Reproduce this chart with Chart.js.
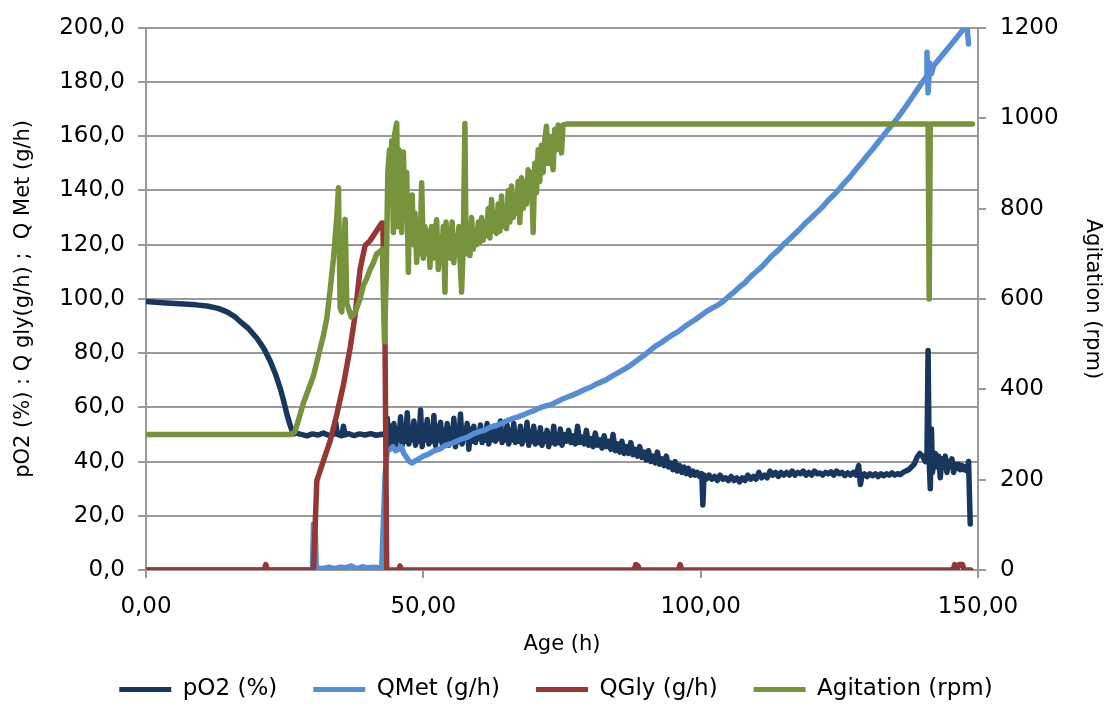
<!DOCTYPE html>
<html>
<head>
<meta charset="utf-8">
<script src="https://cdn.jsdelivr.net/npm/chart.js@4/dist/chart.umd.min.js"></script>
<style>
    html, body { margin: 0; padding: 0; background: #fff; }
</style>
</head>
<body>
<canvas id="myChart" width="1112" height="717"></canvas>
<script>
// Data
var xTickLabels = ['0,00', '50,00', '100,00', '150,00'];
var yTickLabels = ['0,0', '20,0', '40,0', '60,0', '80,0', '100,0', '120,0', '140,0', '160,0', '180,0', '200,0'];
var y1TickLabels = ['0', '200', '400', '600', '800', '1000', '1200'];
var seriesNames = ['pO2 (%)', 'QMet (g/h)', 'QGly (g/h)', 'Agitation (rpm)'];

// [age (h), pO2 (%)]
var po2 = [
    [0, 99], [3, 98.6], [6, 98.2], [9, 97.8], [11, 97.4], [13, 96.5], [14.6, 95.2], [16, 93.5], [17, 91.6],
    [18.5, 89], [20, 85.5], [21.3, 81.5], [22.4, 77], [23.3, 72.5], [24.2, 67], [24.8, 62.5], [25.4, 57.5],
    [25.9, 54], [26.3, 51.5], [26.6, 50.2], [27, 50.5], [28, 50], [29, 49.5], [30, 50.2], [31, 49.8],
    [32, 50.5], [33, 49.6], [33.8, 50], [34.2, 54.5], [34.5, 50], [35.3, 49.5], [35.6, 53], [35.9, 49.8],
    [36.5, 50.3], [37.5, 49.6], [38.5, 50.2], [39.5, 49.8], [40.5, 50.3], [41.5, 49.7], [42.5, 50.1], [43.2, 49.8],
    [43.5, 56], [43.8, 46], [44.1, 53], [44.4, 47], [44.7, 54], [45.0, 45.5], [45.3, 52], [45.6, 48],
    [45.9, 56.5], [46.2, 46], [46.5, 53], [46.8, 47.5], [47.1, 58], [47.4, 46.5], [47.7, 52], [48.0, 48],
    [48.3, 55], [48.6, 46], [48.9, 51.5], [49.2, 47.5], [49.5, 59], [49.8, 45.5], [50.1, 53], [50.4, 48],
    [50.7, 55.5], [51.0, 46.5], [51.3, 52], [51.6, 47.5], [51.9, 57], [52.2, 46], [52.5, 53], [52.8, 48],
    [53.1, 54.5], [53.4, 46.5], [53.7, 51.5], [54.0, 47], [54.3, 54], [54.6, 46], [54.9, 52], [55.2, 48],
    [55.5, 56], [55.8, 45.5], [56.1, 52.5], [56.4, 47.5], [56.7, 57.5], [57.0, 46.5], [57.3, 51.5], [57.6, 48.5],
    [57.9, 54], [58.2, 44.5], [58.5, 52], [58.8, 47.5], [59.1, 53], [59.4, 47], [59.7, 51], [60.0, 48.5],
    [60.3, 53.5], [60.6, 47], [60.9, 51], [61.2, 48], [61.5, 54], [61.8, 46.5], [62.1, 51.5], [62.4, 48],
    [62.7, 53], [63.0, 47.5], [63.3, 50.5], [63.6, 48.5], [63.9, 55], [64.2, 47], [64.5, 51], [64.8, 48],
    [65.1, 53.5], [65.4, 46.5], [65.7, 51.5], [66.0, 48], [66.3, 54], [66.6, 47], [66.9, 50.5], [67.2, 47.5],
    [67.5, 53], [67.8, 46.5], [68.1, 51], [68.4, 48], [68.7, 54.5], [69.0, 46], [69.3, 51], [69.6, 47.5],
    [69.9, 53], [70.2, 46.5], [70.5, 50.5], [70.8, 47], [71.1, 52.5], [71.4, 46], [71.7, 50], [72.0, 47.5],
    [72.3, 51.5], [72.6, 45.5], [72.9, 50], [73.2, 47], [73.5, 53], [73.8, 46.5], [74.1, 49.5], [74.4, 47],
    [74.7, 52], [75.0, 46], [75.4, 50], [75.8, 47.5], [76.2, 51.5], [76.6, 47], [77, 49.5], [77.4, 46.5],
    [77.8, 53], [78.2, 47], [78.6, 49], [79, 46.5], [79.4, 51.5], [79.8, 46], [80.2, 48.5], [80.6, 45.5],
    [81, 50.5], [81.4, 46], [81.8, 48], [82.2, 45], [82.6, 49.5], [83, 45.5], [83.4, 47.5], [83.8, 44.5],
    [84.2, 50], [84.6, 44], [85, 46.5], [85.4, 43.5], [85.8, 47.5], [86.2, 43], [86.6, 45.5], [87, 43],
    [87.4, 47], [87.8, 42.5], [88.2, 44.5], [88.6, 42], [89, 45.5], [89.4, 41.5], [89.8, 43.5], [90.2, 40.5],
    [90.6, 44], [91, 40], [91.4, 42], [91.8, 39.5], [92.2, 43.5], [92.6, 39], [93, 41], [93.4, 38.5],
    [93.8, 42], [94.2, 38], [94.6, 39.5], [95, 37], [95.4, 40], [95.8, 36.5], [96.2, 38.5], [96.6, 36],
    [97, 38], [97.4, 35.5], [97.8, 37.5], [98.2, 35], [98.6, 36.5], [99, 35], [99.4, 36], [99.8, 34.5],
    [100.2, 35.5], [100.4, 24], [100.6, 35], [101, 33.5], [101.5, 35], [102, 33.5], [102.5, 34.5], [103, 33],
    [103.5, 35], [104, 33.5], [104.5, 34], [105, 33], [105.5, 34.5], [106, 33], [106.5, 34], [107, 32.5],
    [107.5, 34], [108, 33], [108.5, 35], [109, 33.5], [109.5, 34.5], [110, 33.5], [110.5, 36], [111, 34],
    [111.5, 35], [112, 34], [112.5, 36.5], [113, 35], [113.5, 36], [114, 34.5], [114.5, 36], [115, 35],
    [115.5, 36], [116, 35], [116.5, 36.5], [117, 35], [117.5, 36], [118, 35.5], [118.5, 36.5], [119, 35],
    [119.5, 36], [120, 35], [120.5, 36.5], [121, 35.5], [121.5, 35.8], [122, 35], [122.5, 36], [123, 35.5],
    [123.5, 36.2], [124, 35], [124.5, 36.5], [125, 35.5], [125.5, 36], [126, 34.8], [126.5, 35.8], [127, 35],
    [127.5, 36], [128, 35], [128.5, 38.5], [128.8, 31.5], [129.1, 35], [129.5, 35.5], [130, 34.5], [130.5, 35.5],
    [131, 34.8], [131.5, 35.5], [132, 34.5], [132.5, 35.5], [133, 34.8], [133.5, 35.5], [134, 35], [134.5, 35.8],
    [135, 35], [135.5, 35.5], [136, 35.2], [136.5, 36], [137, 36.5], [137.5, 37], [138, 38], [138.5, 39],
    [139, 41.5], [139.5, 43], [140, 42], [140.5, 40], [140.8, 43], [141, 81], [141.2, 40], [141.4, 30],
    [141.6, 52], [141.8, 36], [142, 40], [142.3, 43], [142.6, 38], [142.9, 42], [143.2, 34], [143.5, 41],
    [143.8, 38], [144.1, 42], [144.4, 36], [144.7, 40], [145, 38], [145.3, 41], [145.6, 36], [145.9, 39],
    [146.2, 37.5], [146.5, 39], [146.8, 37], [147.1, 38.5], [147.4, 37], [147.7, 38], [148, 36.5], [148.3, 40],
    [148.6, 17]
];

// [age (h), QMet (g/h)]
var qMet = [
    [0, 0], [30.0, 0], [30.2, 17], [30.5, 17], [30.7, 1], [31.5, 0.5], [33, 1], [34, 0.5], [35, 1], [36, 0.8],
    [37, 1.5], [38, 0.5], [39, 1.2], [40, 0.8], [41, 1], [42, 0.8], [42.5, 1], [43.1, 35], [43.5, 44],
    [44, 44.5], [44.5, 45.5], [45, 44], [45.5, 44.5], [46, 45.5], [46.5, 43], [47, 41.5], [47.5, 40],
    [48, 39.5], [48.5, 40.2], [49, 40.8], [50, 42], [51, 42.8], [52, 44], [53, 44.6], [54, 46], [55, 46.6],
    [56, 47.5], [57, 48.4], [58, 49], [59, 50.2], [60, 51], [61, 51.5], [62, 52.6], [63, 53.2], [64, 54],
    [65, 55], [66, 55.8], [67, 56.4], [68, 57.2], [69, 58.1], [70, 58.8], [71, 59.8], [72, 60.5], [73, 61],
    [74, 62], [75, 63], [76, 63.8], [77, 64.6], [78, 65.5], [79, 66.5], [80, 67.3], [81, 68.4], [82, 69.3],
    [83, 70.2], [84, 71.5], [85, 72.6], [86, 73.8], [87, 75], [88, 76.5], [89, 78], [90, 79.5], [91, 81.2],
    [92, 82.8], [93, 84], [94, 85.5], [95, 86.8], [96, 88], [97, 89.6], [98, 91], [99, 92.3], [100, 93.8],
    [101, 95.3], [102, 96.5], [103, 97.6], [104, 99], [105, 100.8], [106, 102.5], [107, 104.4], [108, 106],
    [109, 108.2], [110, 110], [111, 111.8], [112, 114], [113, 116.2], [114, 118], [115, 120.2], [116, 122],
    [117, 124], [118, 126], [119, 128.2], [120, 130], [121, 132], [122, 134], [123, 136.4], [124, 138.3],
    [125, 140.6], [126, 143], [127, 145.2], [128, 147.8], [129, 150.2], [130, 152.8], [131, 155.2],
    [132, 157.8], [133, 160.4], [134, 163], [135, 165.4], [136, 168.2], [137, 171], [138, 174], [139, 177],
    [140, 180], [140.7, 182], [140.8, 191], [141, 176], [141.3, 187], [141.6, 183], [142, 186], [143, 188.5],
    [144, 191], [145, 193.5], [146, 196], [147, 198.5], [148, 201], [148.3, 194]
];

// [age (h), QGly (g/h)]
var qGly = [
    [0, 0], [21.3, 0], [21.6, 2], [21.9, 0], [30.2, 0], [30.8, 33], [32, 40.3], [33.2, 47.6], [34.4, 57.4],
    [35.6, 68.4], [36.8, 81.8], [37.7, 94], [38.6, 111], [39.5, 119.7], [40.4, 121.5], [41.6, 125.2],
    [42.5, 128], [42.7, 128], [43.1, 82], [43.4, 0], [45.5, 0], [45.8, 1.5], [46.1, 0], [88, 0], [88.3, 2],
    [88.7, 1.5], [89, 0], [96, 0], [96.3, 2], [96.6, 0], [145.5, 0], [145.8, 2], [146.1, 0], [146.6, 2],
    [147.2, 2], [147.5, 0], [148.7, 0]
];

// [age (h), agitation (rpm)]
var agitation = [
    [0, 300], [26, 300], [26.8, 305], [27.2, 320], [27.8, 345], [28.4, 370], [29, 390], [29.6, 410],
    [30.2, 430], [30.8, 460], [31.4, 490], [32, 520], [32.6, 557], [33.2, 620], [33.8, 690], [34.4, 780],
    [34.7, 846], [35, 580], [35.3, 571], [35.6, 700], [35.9, 776], [36.2, 590], [36.6, 575], [37, 560],
    [37.5, 565], [38, 580], [38.6, 600], [39.2, 630], [39.8, 645], [40.4, 665], [41, 680], [41.6, 700],
    [42.2, 705], [42.6, 710], [43.0, 505], [43.3, 650], [43.6, 880], [43.9, 930], [44.1, 820], [44.3, 950],
    [44.6, 747], [44.8, 963], [45.2, 989], [45.4, 760], [45.6, 930], [45.8, 790], [46.1, 747], [46.4, 925],
    [46.7, 800], [47.0, 880], [47.3, 659], [47.5, 820], [47.8, 740], [48.0, 830], [48.2, 720], [48.5, 790],
    [48.8, 681], [49.1, 760], [49.4, 700], [49.7, 857], [50.0, 690], [50.3, 760], [50.6, 700], [50.9, 750],
    [51.2, 670], [51.5, 760], [51.8, 690], [52.1, 740], [52.4, 775], [52.7, 665], [53.0, 735], [53.3, 680],
    [53.6, 760], [53.9, 615], [54.1, 770], [54.4, 700], [54.6, 740], [54.9, 690], [55.2, 770], [55.5, 680],
    [55.8, 740], [56.1, 700], [56.4, 760], [56.6, 690], [56.9, 615], [57.2, 720], [57.5, 988], [57.7, 700],
    [58.1, 760], [58.4, 696], [58.7, 780], [59.0, 710], [59.3, 750], [59.6, 720], [59.9, 770], [60.2, 725],
    [60.5, 780], [60.8, 730], [61.1, 770], [61.4, 740], [61.7, 800], [62.0, 735], [62.3, 820], [62.6, 750],
    [62.9, 790], [63.2, 745], [63.5, 810], [63.8, 750], [64.1, 828], [64.4, 760], [64.7, 800], [65.0, 755],
    [65.3, 840], [65.6, 770], [65.9, 850], [66.2, 780], [66.5, 830], [66.8, 790], [67.1, 860], [67.4, 769],
    [67.7, 868], [68.0, 800], [68.3, 860], [68.6, 810], [68.9, 886], [69.2, 820], [69.5, 880], [69.8, 747],
    [70.1, 900], [70.4, 835], [70.7, 930], [71.0, 860], [71.3, 940], [71.6, 880], [71.9, 952], [72.2, 982],
    [72.5, 900], [72.8, 960], [73.1, 908], [73.4, 886], [73.7, 975], [74.0, 930], [74.3, 985], [74.6, 945],
    [74.9, 923], [75.2, 985], [75.8, 987], [141.0, 987], [141.2, 600], [141.4, 987], [149, 987]
];

function toPoints(list) {
    return list.map(function (p) {
        return { x: p[0], y: p[1] };
    });
}

var tickFont = { family: 'DejaVu Sans', size: 23 };
var titleFont = { family: 'DejaVu Sans', size: 21 };
var axisGray = '#9a9a9a';

new Chart("myChart", {
    type: "line",
    data: {
        datasets: [{
            label: seriesNames[0],
            data: toPoints(po2),
            borderColor: "#17375E",
            backgroundColor: "#17375E",
            yAxisID: 'y',
            order: 3
        }, {
            label: seriesNames[1],
            data: toPoints(qMet),
            borderColor: "#558ED5",
            backgroundColor: "#558ED5",
            yAxisID: 'y',
            order: 2
        }, {
            label: seriesNames[2],
            data: toPoints(qGly),
            borderColor: "#953735",
            backgroundColor: "#953735",
            yAxisID: 'y',
            order: 1
        }, {
            label: seriesNames[3],
            data: toPoints(agitation),
            borderColor: "#77933C",
            backgroundColor: "#77933C",
            yAxisID: 'y1',
            order: 0
        }]
    },
    options: {
        responsive: false,
        animation: false,
        layout: { padding: { top: 24, bottom: 6, left: 0, right: 0 } },
        elements: {
            line: { borderWidth: 5.5, tension: 0, borderJoinStyle: 'round', borderCapStyle: 'round', fill: false },
            point: { radius: 0 }
        },
        plugins: {
            tooltip: { enabled: false },
            legend: {
                position: 'bottom',
                labels: {
                    boxWidth: 52,
                    boxHeight: 5,
                    padding: 36,
                    color: '#000',
                    font: { family: 'DejaVu Sans', size: 23 },
                    sort: function (a, b) { return a.datasetIndex - b.datasetIndex; },
                    generateLabels: function (chart) {
                        var items = Chart.defaults.plugins.legend.labels.generateLabels(chart);
                        items.forEach(function (it) {
                            it.lineWidth = 0;
                        });
                        return items;
                    }
                }
            }
        },
        scales: {
            x: {
                type: 'linear',
                min: 0,
                max: 150,
                ticks: {
                    stepSize: 50,
                    padding: 15,
                    color: '#000',
                    font: tickFont,
                    maxRotation: 0,
                    callback: function (v) { return xTickLabels[v / 50]; }
                },
                grid: { drawOnChartArea: false, color: axisGray, lineWidth: 2, tickLength: 8 },
                border: { color: axisGray, width: 2 },
                title: { display: true, text: 'Age (h)', color: '#000', font: titleFont, padding: { top: 0, bottom: -15 } },
                afterFit: function (s) {
                    var lh = s.chart.legend ? s.chart.legend.height : 69;
                    s.height = 147 - 6 - lh;
                }
            },
            y: {
                position: 'left',
                min: 0,
                max: 200,
                ticks: {
                    stepSize: 20,
                    padding: 13,
                    color: '#000',
                    font: tickFont,
                    callback: function (v) { return yTickLabels[v / 20]; }
                },
                grid: { color: axisGray, lineWidth: 2, tickLength: 8 },
                border: { color: axisGray, width: 2 },
                title: { display: true, text: 'pO2 (%) : Q gly(g/h) ;  Q Met (g/h)', color: '#000', font: titleFont, padding: { top: 11, bottom: 0 } },
                afterFit: function (s) { s.width = 146; }
            },
            y1: {
                position: 'right',
                min: 0,
                max: 1200,
                ticks: {
                    stepSize: 200,
                    padding: 14,
                    color: '#000',
                    font: tickFont,
                    callback: function (v) { return y1TickLabels[v / 200]; }
                },
                grid: { drawOnChartArea: false, color: axisGray, lineWidth: 2, tickLength: 8 },
                border: { color: axisGray, width: 2 },
                title: { display: true, text: 'Agitation (rpm)', color: '#000', font: titleFont, padding: { top: 7, bottom: 0 } },
                afterFit: function (s) { s.width = 134; }
            }
        }
    }
});
</script>
</body>
</html>
